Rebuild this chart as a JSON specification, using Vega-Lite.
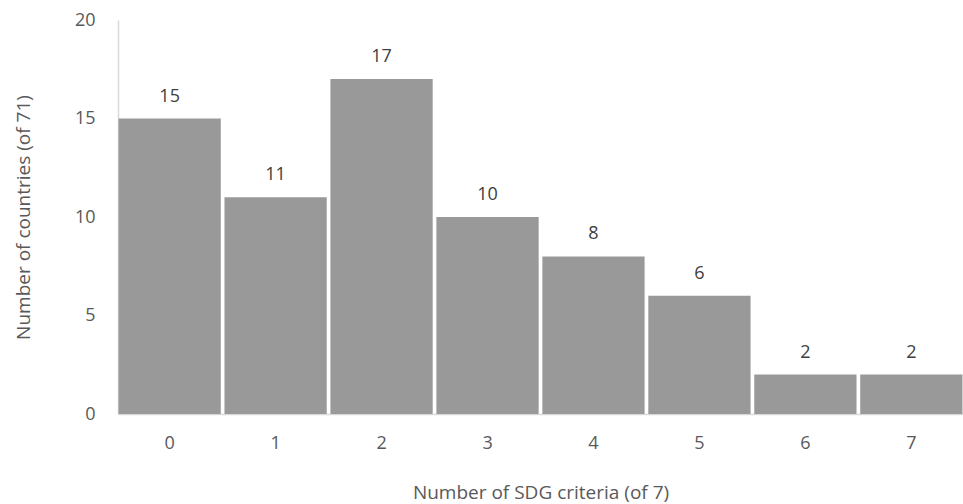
{
  "$schema": "https://vega.github.io/schema/vega-lite/v6.json",
  "width": 845,
  "height": 394,
  "autosize": {"type": "none"},
  "padding": {"left": 118, "top": 20, "right": 0, "bottom": 90},
  "background": "white",
  "config": {"view": {"stroke": null}, "font": "Open Sans"},
  "data": {"values": [
    {"criteria": "0", "count": 15},
    {"criteria": "1", "count": 11},
    {"criteria": "2", "count": 17},
    {"criteria": "3", "count": 10},
    {"criteria": "4", "count": 8},
    {"criteria": "5", "count": 6},
    {"criteria": "6", "count": 2},
    {"criteria": "7", "count": 2}
  ]},
  "encoding": {
    "x": {
      "field": "criteria", "type": "ordinal", "sort": null,
      "scale": {"paddingInner": 0.035, "paddingOuter": 0.005},
      "axis": {
        "title": "Number of SDG criteria (of 7)",
        "titleFont": "Open Sans", "titleFontSize": 19, "titleFontWeight": "normal", "titleColor": "#595959",
        "titlePadding": 31,
        "labelAngle": 0, "labelFontSize": 18, "labelColor": "#595959", "labelPadding": 20,
        "ticks": false, "domainColor": "#d9d9d9", "domainWidth": 1.5
      }
    },
    "y": {
      "field": "count", "type": "quantitative",
      "scale": {"domain": [0, 20]},
      "axis": {
        "title": "Number of countries (of 71)",
        "titleFont": "Open Sans", "titleFontSize": 19, "titleFontWeight": "normal", "titleColor": "#595959",
        "titlePadding": 41,
        "values": [0, 5, 10, 15, 20],
        "labelFontSize": 18, "labelColor": "#595959", "labelPadding": 23,
        "ticks": false, "grid": false, "domainColor": "#d9d9d9", "domainWidth": 1.5
      }
    }
  },
  "layer": [
    {"mark": {"type": "bar", "color": "#999999"}},
    {
      "mark": {"type": "text", "dy": -22, "fontSize": 18, "color": "#404040", "font": "Open Sans"},
      "encoding": {"text": {"field": "count", "type": "quantitative"}}
    }
  ]
}
